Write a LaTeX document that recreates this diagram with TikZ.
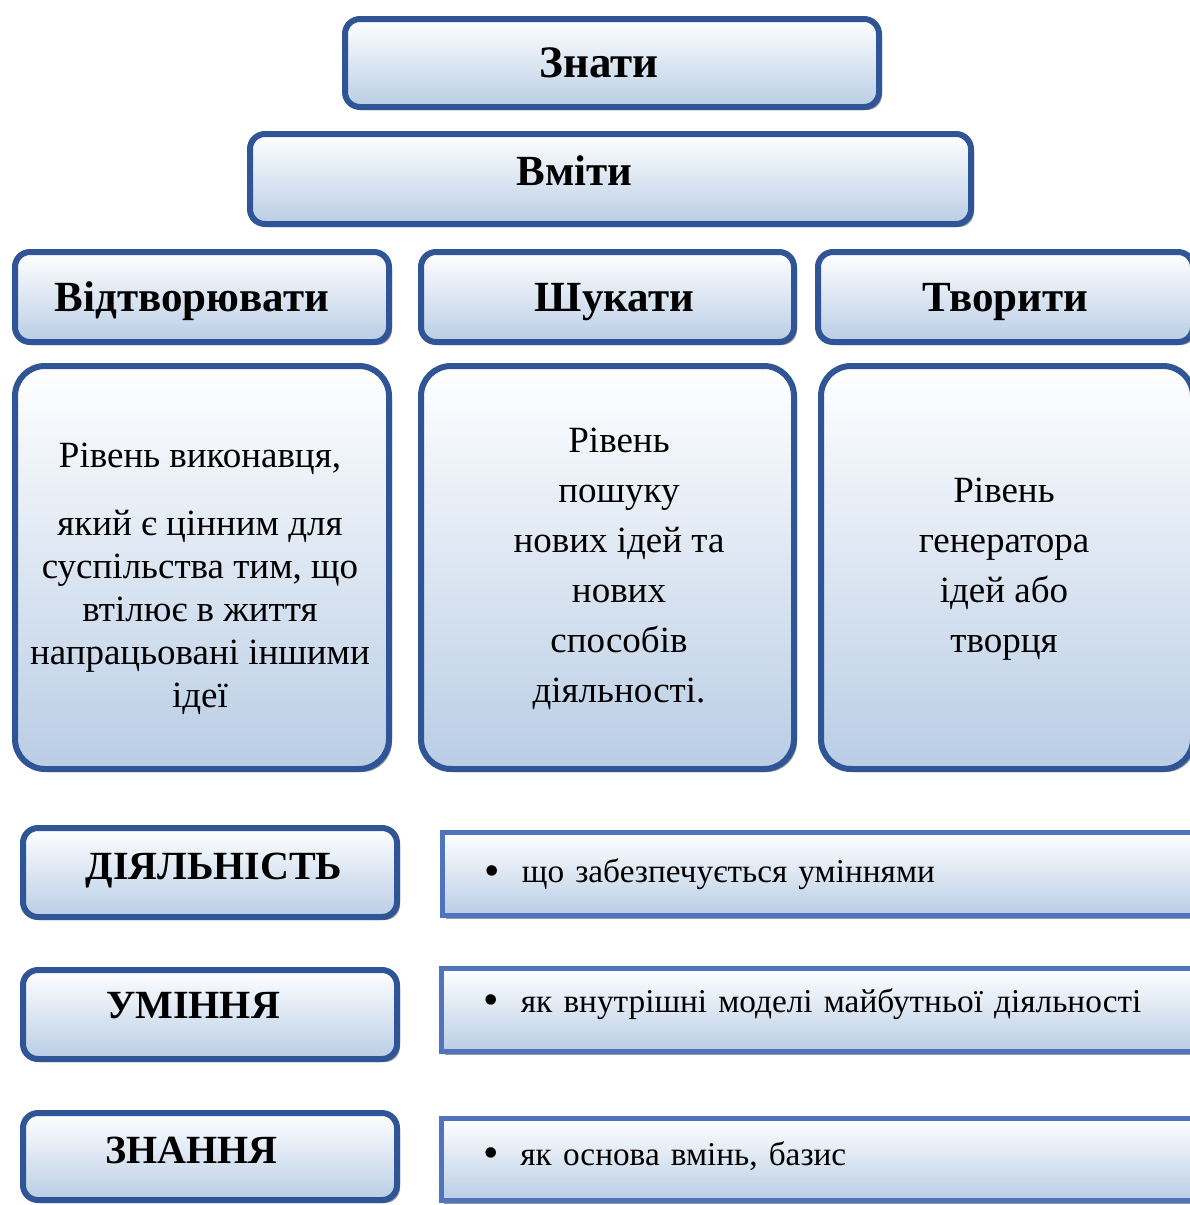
\documentclass[tikz,border=0pt]{standalone}
\usepackage{fontspec}
\setmainfont{Liberation Serif}
\usetikzlibrary{shadows}

\definecolor{edgeblue}{RGB}{47,85,151}
\definecolor{lineblue}{RGB}{80,115,190}
\definecolor{fillblue}{RGB}{185,205,229}

\newcommand{\bul}{\raisebox{-2.5pt}{\fontsize{44}{44}\selectfont\textbullet}\hspace{22pt}}

\tikzset{
  rbox/.style={draw=edgeblue, line width=6pt, rounded corners=15pt, inner sep=0pt,
    top color=white, bottom color=fillblue,
    drop shadow={shadow xshift=3pt, shadow yshift=-3pt, fill=black, opacity=0.4}},
  sbox/.style={draw=lineblue, line width=5pt, inner ysep=0pt, inner xsep=42pt,
    top color=white, bottom color=fillblue, text width=671pt, align=left,
    font=\fontsize{33.3}{40}\selectfont, text height=23pt,
    drop shadow={shadow xshift=3pt, shadow yshift=-3pt, fill=black, opacity=0.4}},
  head/.style={font=\fontsize{43}{50}\selectfont\bfseries, text height=38pt, text depth=10pt},
  caps/.style={font=\fontsize{40}{46}\selectfont\bfseries, text height=27pt, text depth=13pt},
  level/.style={rbox, rounded corners=30pt, minimum height=403},
  tshift/.style={execute at begin node={\hspace*{#1}}}
}

\begin{document}
\begin{tikzpicture}[x=1pt, y=-1pt]
\clip (0,0) rectangle (1190,1205);

% Top boxes
\node[rbox, head, font=\fontsize{45}{50}\selectfont\bfseries, minimum width=534, minimum height=88, tshift=-26pt] (znaty) at (612,63) {Знати};
\node[rbox, head, text height=30pt, text depth=17pt, minimum width=721, minimum height=90, tshift=-72pt] (vmity) at (610.5,179) {Вміти};

% Three levels
\node[rbox, head, minimum width=374, minimum height=90, tshift=-20pt] (vidtvoryuvaty) at (202,297) {Відтворювати};
\node[rbox, head, minimum width=373, minimum height=90, tshift=14pt] (shukaty) at (607.5,297) {Шукати};
\node[rbox, head, minimum width=375, minimum height=90] (tvoryty) at (1005.5,297) {Творити};

% Level descriptions
\node[level, minimum width=374, font=\fontsize{37}{43}\selectfont, tshift=-4pt] (riven1) at (202,567.5)
  {\begin{tabular}{@{}c@{}}\rule{0pt}{52pt}Рівень виконавця,\\[25pt] який є цінним для\\ суспільства тим, що\\
   втілює в життя\\ напрацьовані іншими\\ ідеї\end{tabular}};
\node[level, minimum width=373, font=\fontsize{37}{50}\selectfont, tshift=23pt] (riven2) at (607.5,567.5)
  {\begin{tabular}{@{}c@{}}Рівень\\ пошуку\\ нових ідей та\\ нових\\ способів\\ діяльності.\end{tabular}};
\node[level, minimum width=372, font=\fontsize{37}{50}\selectfont, tshift=-6pt] (riven3) at (1007,567.5)
  {\begin{tabular}{@{}c@{}}Рівень\\ генератора\\ ідей або\\ творця\end{tabular}};

% Left column
\node[rbox, caps, minimum width=374, minimum height=89, tshift=8pt] (diyalnist) at (210,872.5) {ДІЯЛЬНІСТЬ};
\node[rbox, caps, text depth=19pt, minimum width=374, minimum height=89, tshift=-34pt] (uminnya) at (210,1014.5) {УМІННЯ};
\node[rbox, caps, minimum width=374, minimum height=87, tshift=-37pt] (znannya) at (210,1156.5) {ЗНАННЯ};

% Right column
\node[sbox, text depth=6pt, minimum height=83] (ops1) at (820,874)
  {\bul що забезпечується уміннями};
\node[sbox, text depth=19pt, minimum height=83] (ops2) at (819,1010)
  {\bul як внутрішні моделі майбутньої діяльності};
\node[sbox, text depth=12pt, minimum height=82] (ops3) at (818.5,1159.5)
  {\bul як основа вмінь, базис};
\end{tikzpicture}
\end{document}
